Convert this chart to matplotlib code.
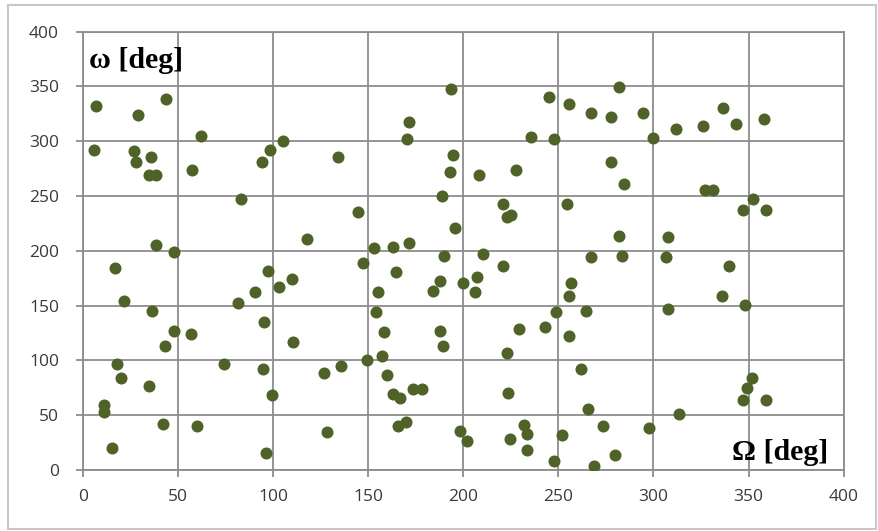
import matplotlib
matplotlib.use("Agg")
import matplotlib.pyplot as plt
from matplotlib.patches import Rectangle

# Omega [deg] values (x) and omega [deg] values (y)
omega_node = [7, 6, 29, 44, 27, 28, 36, 35, 38.5, 62, 57.6, 83, 94.4, 98.4, 105.3,
              38.4, 47.8, 17, 21.9, 36.4, 47.8, 43.1, 56.8, 18, 20.1, 34.7, 11.4, 11.4,
              15.6, 42, 59.9, 74.3, 81.6, 90.6, 97.2, 103.3, 109.9, 95.3, 94.6, 99.3,
              96.2, 110.7, 134, 144.5, 117.7, 153.3, 162.9, 171.5, 147.5, 164.7, 171.7,
              170.6, 193.8, 194.8, 192.9, 208.3, 188.9, 195.7, 189.9, 210.4, 221.1,
              244.9, 255.4, 235.5, 247.7, 227.6, 220.8, 222.9, 225, 254.5, 281.9, 267.2,
              277.7, 294.3, 299.9, 311.7, 326.2, 336.7, 343.4, 358.1, 277.8, 284.7,
              327.1, 331.1, 352.2, 347.2, 359.2, 281.9, 307.5, 267.2, 283.6, 306.6,
              339.7, 155.1, 188, 184, 199.7, 207.4, 206.4, 256.5, 255.6, 248.6, 229.3,
              243, 255.8, 222.9, 154.2, 158.4, 188, 189.5, 157.3, 149.3, 135.8, 127,
              159.8, 162.9, 166.8, 173.8, 178.5, 223.7, 128.2, 165.9, 169.9, 198.3,
              201.8, 224.6, 231.9, 233.4, 233.4, 251.8, 247.9, 262, 264.4, 307.5, 335.9,
              348.3, 352, 349.3, 347.2, 359.2, 265.4, 313.6, 273.6, 297.8, 279.8, 268.9]
omega_peri = [332, 292, 324, 339, 291, 281, 286, 269, 269, 305, 274, 247, 281, 292, 300.5,
              205, 199, 184, 154, 145.4, 127, 113.4, 123.8, 97, 84, 77, 59, 52.5,
              20.4, 42, 40.4, 97, 152, 162, 182, 167.3, 174, 135.3, 92, 68.7,
              15.8, 117, 285.6, 235.7, 210.5, 202.3, 203.8, 207.4, 188.6, 180.4, 317.6,
              302.3, 347.4, 287.5, 272.2, 269.2, 250.3, 220.5, 195.7, 197.1, 186.4,
              340.7, 334, 303.9, 302.3, 273.8, 242.7, 231.2, 232.7, 242.6, 349.2, 325.5,
              322.4, 325.5, 302.7, 310.9, 313.9, 330.6, 315.5, 320.6, 280.8, 260.7,
              255.5, 255.5, 247.3, 237.3, 237.3, 213.8, 212.3, 194.1, 195.6, 194.1,
              186, 162.2, 172.5, 163.6, 170.4, 175.9, 162.4, 170.4, 158.8, 143.9, 128.7,
              130.2, 122.3, 107.1, 143.9, 125.7, 127.1, 113.4, 104, 100.4, 95.2, 88.8,
              86.7, 69.1, 65.4, 73.6, 73.6, 70.5, 35, 40.5, 43.5, 35.6,
              26.8, 28.3, 41, 32.5, 18.2, 31.9, 8.5, 92.2, 145.4, 146.9, 158.8,
              150.6, 84.2, 74.6, 63.9, 63.9, 55.4, 50.8, 40.5, 38.6, 13.7, 3.7]

x_ticks = [0, 50, 100, 150, 200, 250, 300, 350, 400]
y_ticks = [0, 50, 100, 150, 200, 250, 300, 350, 400]

fig = plt.figure(figsize=(8.79, 5.31), dpi=100)
fig.patches.append(Rectangle((8/879, 2/531), 868/879, 524/531, transform=fig.transFigure,
                             fill=False, edgecolor="#c8c8c8", linewidth=1.5))
ax = fig.add_axes([82.7/879, 1-470/531, 761/879, 438.3/531])

ax.scatter(omega_node, omega_peri, s=75, color="#4f6228", zorder=3, linewidths=0)

ax.set_xlim(0, 400)
ax.set_ylim(0, 400)
ax.set_xticks(x_ticks)
ax.set_yticks(y_ticks)
ax.grid(True, color="#8c8c8c", linewidth=1.3)
ax.set_axisbelow(True)
for sp in ax.spines.values():
    sp.set_color("#8c8c8c")
    sp.set_linewidth(1.3)
ax.tick_params(axis="both", colors="#8c8c8c", length=5, width=1.3,
               labelcolor="#3a3a3a", labelsize=12.5)
ax.tick_params(axis="x", pad=9)
ax.tick_params(axis="y", pad=12)
for lab in ax.get_xticklabels() + ax.get_yticklabels():
    lab.set_fontfamily("Open Sans")

ax.text(3.3, 374, "ω [deg]", fontsize=21.5, fontweight="bold", family="Liberation Serif",
        ha="left", va="center", color="black")
ax.text(392, 16, "Ω [deg]", fontsize=21.5, fontweight="bold", family="Liberation Serif",
        ha="right", va="center", color="black")

fig.savefig("out.png", dpi=100)
